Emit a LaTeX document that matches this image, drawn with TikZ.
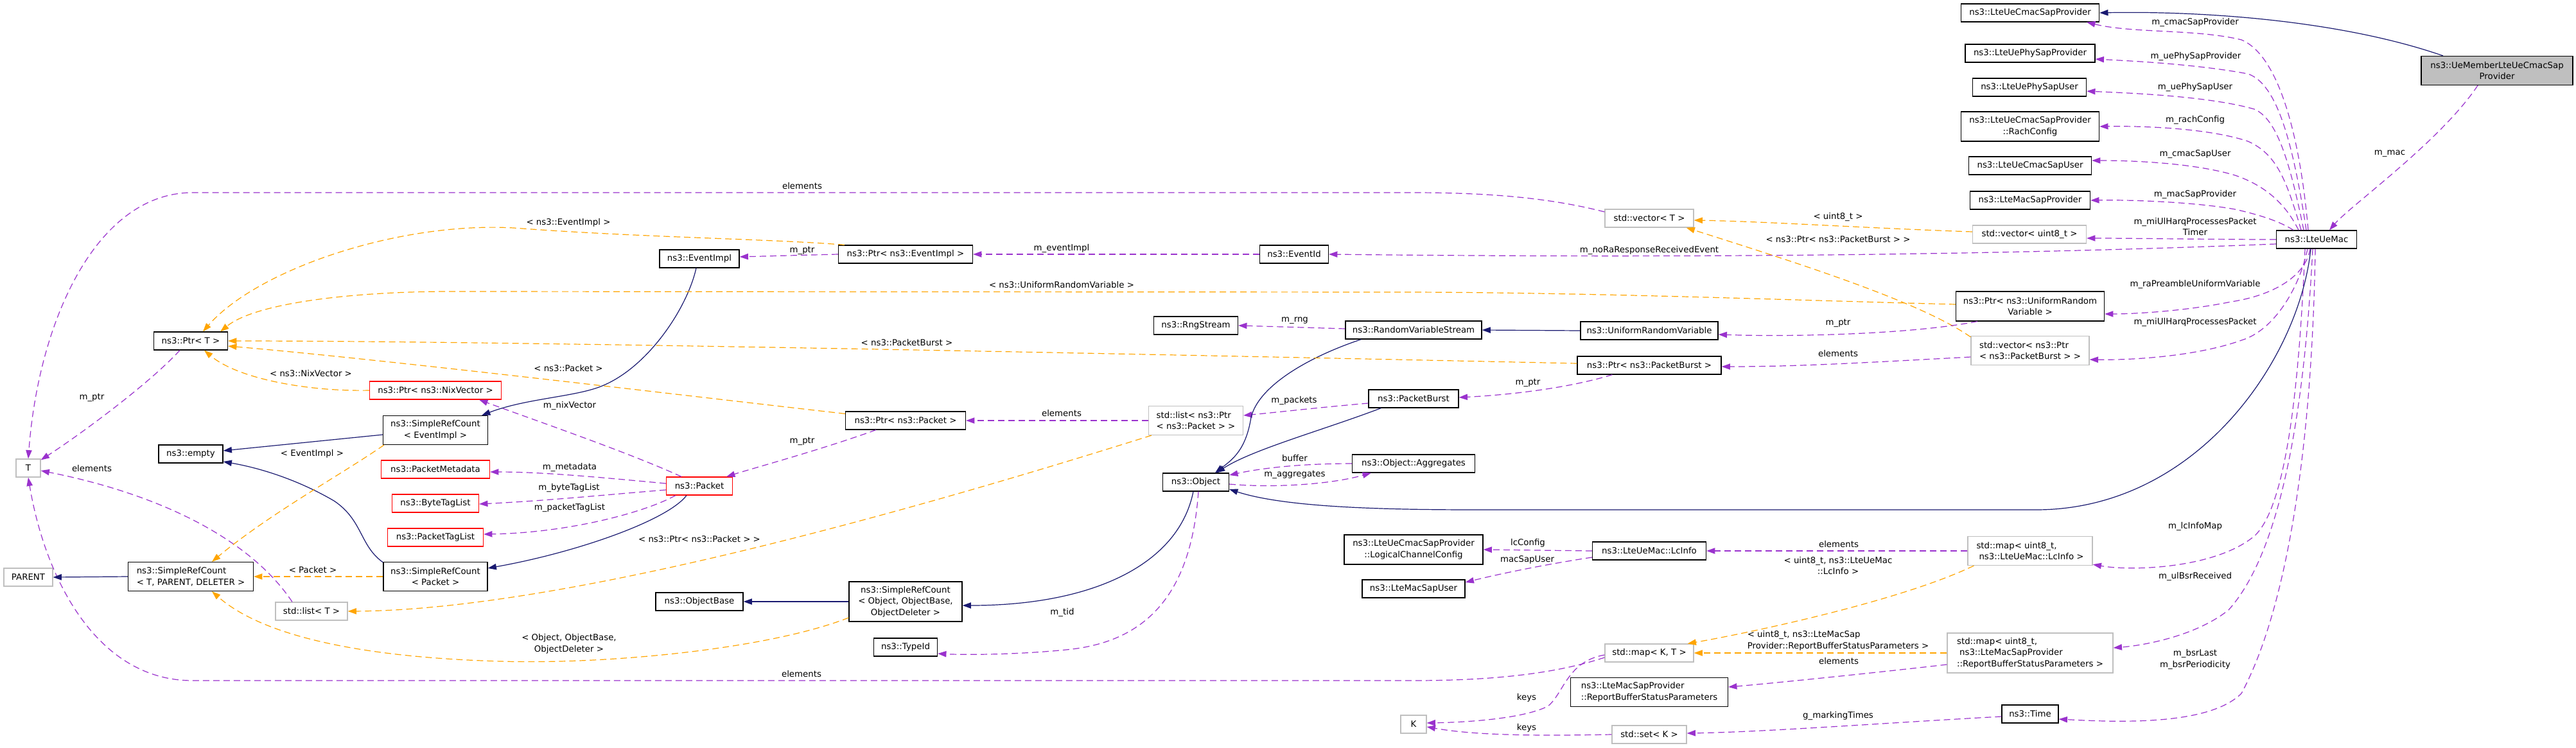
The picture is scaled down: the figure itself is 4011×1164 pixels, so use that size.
\documentclass[tikz,border=0pt]{standalone}
\usepackage{fontspec}
\setmainfont{DejaVu Sans}
\usetikzlibrary{arrows.meta,calc}
\definecolor{dpurple}{HTML}{9A32CD}
\definecolor{dorange}{HTML}{FFA500}
\definecolor{dblue}{HTML}{191970}
\definecolor{gborder}{HTML}{BFBFBF}
\definecolor{mfill}{HTML}{BFBFBF}
\definecolor{rborder}{HTML}{FF0000}
\newcommand{\dgfont}{\fontsize{10}{13.1}\selectfont}
\begin{document}
\begin{tikzpicture}[x=0.75pt,y=-0.75pt,
  nb/.style={draw=black, line width=0.9pt, fill=white, inner sep=0pt, rectangle, font=\dgfont, align=center},
  gb/.style={nb, draw=gborder},
  rb/.style={nb, draw=rborder},
  mb/.style={nb, fill=mfill},
  pe/.style={draw=dpurple, line width=0.9pt, dash pattern=on 7.5pt off 4.5pt, -{Triangle[length=10pt,width=7pt]}},
  oe/.style={pe, draw=dorange},
  be/.style={draw=dblue, line width=0.9pt, -{Triangle[length=10pt,width=7pt]}},
  lbl/.style={inner sep=0pt, font=\dgfont, align=center}]
\fill[white] (0,0) rectangle (4011,1164);
\useasboundingbox (0,0) rectangle (4011,1164);

% ---------- nodes ----------
\node[mb, minimum width=177pt, minimum height=33.75pt] (ueMember) at (3888,110) {ns3::UeMemberLteUeCmacSap\\Provider};
\node[nb, minimum width=161.25pt, minimum height=21pt] (cmacProv) at (3161,20) {ns3::LteUeCmacSapProvider};
\node[nb, minimum width=151.5pt, minimum height=21pt] (phyProv) at (3161,83) {ns3::LteUePhySapProvider};
\node[nb, minimum width=132.75pt, minimum height=21pt] (phyUser) at (3160,136) {ns3::LteUePhySapUser};
\node[nb, minimum width=161.25pt, minimum height=34.5pt] (rach) at (3161,197) {ns3::LteUeCmacSapProvider\\::RachConfig};
\node[nb, minimum width=143.25pt, minimum height=21pt] (cmacUser) at (3161,258) {ns3::LteUeCmacSapUser};
\node[nb, minimum width=140.25pt, minimum height=21pt] (macProv) at (3161,312) {ns3::LteMacSapProvider};
\node[gb, minimum width=132.75pt, minimum height=21pt] (vecU8) at (3160,365) {std::vector< uint8\_t >};
\node[nb, minimum width=93.75pt, minimum height=21pt] (mac) at (3607,373) {ns3::LteUeMac};
\node[nb, minimum width=173.25pt, minimum height=34.5pt] (ptrURV) at (3161,477) {ns3::Ptr< ns3::UniformRandom\\Variable >};
\node[gb, minimum width=138pt, minimum height=33.75pt, align=left] (vecPB) at (3161,546) {std::vector< ns3::Ptr\\< ns3::PacketBurst > >};
\node[nb, minimum width=132.75pt, minimum height=21pt] (lcInfo) at (2568,858) {ns3::LteUeMac::LcInfo};
\node[gb, minimum width=145.5pt, minimum height=33.75pt, align=left] (mapLc) at (3161,858) {std::map< uint8\_t,\\\hspace*{0.3em}ns3::LteUeMac::LcInfo >};
\node[gb, minimum width=103.5pt, minimum height=21pt] (mapKT) at (2568,1017) {std::map< K, T >};
\node[nb, minimum width=183.75pt, minimum height=33.75pt, align=left] (rbsp) at (2568,1078) {ns3::LteMacSapProvider\\::ReportBufferStatusParameters};
\node[gb, minimum width=193.5pt, minimum height=46.5pt, align=left] (mapRB) at (3161,1017) {std::map< uint8\_t,\\\hspace*{0.3em}ns3::LteMacSapProvider\\::ReportBufferStatusParameters >};
\node[nb, minimum width=66pt, minimum height=21pt] (time) at (3161,1112) {ns3::Time};
\node[gb, minimum width=87pt, minimum height=21pt] (setK) at (2568,1144) {std::set< K >};
\node[gb, minimum width=30pt, minimum height=21pt] (K) at (2201,1128) {K};
\node[nb, minimum width=162pt, minimum height=34.5pt] (lcc) at (2201,856) {ns3::LteUeCmacSapProvider\\::LogicalChannelConfig};
\node[nb, minimum width=120pt, minimum height=21pt] (macUser) at (2201,917) {ns3::LteMacSapUser};
\node[nb, minimum width=77.25pt, minimum height=21pt] (object) at (1862,751) {ns3::Object};
\node[nb, minimum width=143.25pt, minimum height=21pt] (aggr) at (2201,722) {ns3::Object::Aggregates};
\node[gb, minimum width=103.5pt, minimum height=21pt] (vecT) at (2568,340) {std::vector< T >};
\node[nb, minimum width=80.25pt, minimum height=21pt] (eventId) at (2015,396) {ns3::EventId};
\node[nb, minimum width=98.25pt, minimum height=21pt] (rng) at (1862,507) {ns3::RngStream};
\node[nb, minimum width=159pt, minimum height=21pt] (rvs) at (2201,514) {ns3::RandomVariableStream};
\node[nb, minimum width=160.5pt, minimum height=21pt] (urv) at (2568,515) {ns3::UniformRandomVariable};
\node[nb, minimum width=168pt, minimum height=21pt] (ptrPB) at (2568,569) {ns3::Ptr< ns3::PacketBurst >};
\node[nb, minimum width=105pt, minimum height=21pt] (pb) at (2201,621) {ns3::PacketBurst};
\node[gb, minimum width=110.25pt, minimum height=33.75pt, align=left] (listPP) at (1862,655) {std::list< ns3::Ptr\\< ns3::Packet > >};
\node[nb, minimum width=140.25pt, minimum height=21pt] (ptrPkt) at (1410,655) {ns3::Ptr< ns3::Packet >};
\node[nb, minimum width=156.75pt, minimum height=21pt] (ptrEI) at (1410,396) {ns3::Ptr< ns3::EventImpl >};
\node[nb, minimum width=93pt, minimum height=21pt] (eventImpl) at (1089,403) {ns3::EventImpl};
\node[rb, minimum width=153.75pt, minimum height=21pt] (ptrNix) at (678,608) {ns3::Ptr< ns3::NixVector >};
\node[nb, minimum width=122.25pt, minimum height=33.75pt] (srcEI) at (678,670) {ns3::SimpleRefCount\\< EventImpl >};
\node[rb, minimum width=126.75pt, minimum height=21pt] (pktMeta) at (678,731) {ns3::PacketMetadata};
\node[rb, minimum width=77.25pt, minimum height=21pt] (packet) at (1089,757) {ns3::Packet};
\node[rb, minimum width=101.25pt, minimum height=21pt] (byteTag) at (678,784) {ns3::ByteTagList};
\node[rb, minimum width=111.75pt, minimum height=21pt] (pktTag) at (678,837) {ns3::PacketTagList};
\node[nb, minimum width=121.5pt, minimum height=33.75pt] (srcPkt) at (678,898) {ns3::SimpleRefCount\\< Packet >};
\node[nb, minimum width=102pt, minimum height=21pt] (objBase) at (1089,937) {ns3::ObjectBase};
\node[nb, minimum width=132pt, minimum height=46.5pt] (srcObj) at (1410,937) {ns3::SimpleRefCount\\< Object, ObjectBase,\\ObjectDeleter >};
\node[nb, minimum width=74.25pt, minimum height=21pt] (typeId) at (1410,1008) {ns3::TypeId};
\node[nb, minimum width=86.25pt, minimum height=21pt] (ptrT) at (297,531) {ns3::Ptr< T >};
\node[nb, minimum width=75pt, minimum height=21pt] (empty) at (297,707) {ns3::empty};
\node[gb, minimum width=28.5pt, minimum height=21pt] (T) at (44,729) {T};
\node[gb, minimum width=57pt, minimum height=21pt] (parent) at (44,899) {PARENT};
\node[nb, minimum width=146.25pt, minimum height=33.75pt, align=left] (srcT) at (297,898) {ns3::SimpleRefCount\\< T, PARENT, DELETER >};
\node[gb, minimum width=84pt, minimum height=21pt] (listT) at (485,952) {std::list< T >};

% ---------- edges: LteUeMac neighbourhood ----------
\draw[be] ($(ueMember.north)+(-84,0)$) .. controls (3640,30) and (3420,17) .. (cmacProv.east);
\draw[pe] ($(ueMember.south)+(-30,0)$) .. controls (3800,220) and (3660,320) .. ($(mac.north)+(20,0)$);
\draw[pe] ($(mac.north)+(-13,0)$) .. controls (3580,200) and (3545,85) .. (3490,62) .. controls (3420,45) and (3320,52) .. ($(cmacProv.south east)+(-20,0)$);
\draw[pe] ($(mac.north)+(-16,0)$) .. controls (3570,220) and (3545,130) .. (3500,115) .. controls (3420,100) and (3320,95) .. ($(phyProv.east)+(0,9)$);
\draw[pe] ($(mac.north)+(-20,0)$) .. controls (3565,250) and (3545,185) .. (3510,170) .. controls (3440,150) and (3320,145) .. ($(phyUser.east)+(0,6)$);
\draw[pe] ($(mac.north)+(-24,0)$) .. controls (3560,280) and (3545,240) .. (3500,220) .. controls (3440,200) and (3340,196) .. (rach.east);
\draw[pe] ($(mac.north)+(-28,0)$) .. controls (3560,320) and (3530,290) .. (3480,273) .. controls (3420,255) and (3330,250) .. ($(cmacUser.east)+(0,-8)$);
\draw[pe] ($(mac.north)+(-36,0)$) .. controls (3550,345) and (3520,335) .. (3480,326) .. controls (3420,315) and (3320,311) .. (macProv.east);
\draw[pe] (mac.west) .. controls (3450,373) and (3320,371) .. ($(vecU8.east)+(0,6)$);
\draw[pe] ($(mac.west)+(0,7)$) .. controls (3100,398) and (2600,402) .. (eventId.east);
\draw[pe] ($(mac.south)+(-10,0)$) .. controls (3590,430) and (3540,460) .. (3474,470) .. controls (3400,485) and (3320,489) .. ($(ptrURV.east)+(0,12)$);
\draw[pe] ($(mac.south)+(-14,0)$) .. controls (3580,450) and (3540,515) .. (3490,530) .. controls (3420,555) and (3320,561) .. ($(vecPB.east)+(0,14)$);
\draw[pe] ($(mac.south)+(-18,0)$) .. controls (3580,600) and (3560,790) .. (3510,835) .. controls (3450,885) and (3320,890) .. ($(mapLc.south east)+(0,-2)$);
\draw[pe] ($(mac.south)+(-6,0)$) .. controls (3590,600) and (3560,850) .. (3470,950) .. controls (3420,990) and (3340,1005) .. ($(mapRB.east)+(0,-8)$);
\draw[pe] ($(mac.south)+(-2,0)$) .. controls (3600,700) and (3560,950) .. (3490,1080) .. controls (3440,1130) and (3300,1125) .. ($(time.east)+(0,8)$);
\draw[be] ($(mac.south)+(-9,0)$) .. controls (3580,560) and (3420,794) .. (3170,794) -- (2300,794) .. controls (2150,794) and (2000,790) .. ($(object.east)+(0,11)$);

% ---------- edges: lower right ----------
\draw[pe] (mapLc.west) -- (lcInfo.east);
\draw[pe] ($(mapRB.west)+(0,18)$) .. controls (2900,1050) and (2750,1065) .. ($(rbsp.east)+(0,-8)$);
\draw[oe] (mapRB.west) -- (mapKT.east);
\draw[oe] ($(mapLc.south west)+(10,0)$) .. controls (2950,940) and (2700,990) .. ($(mapKT.north east)+(-10,0)$);
\draw[pe] ($(time.west)+(0,4)$) .. controls (2950,1125) and (2750,1140) .. ($(setK.east)+(0,-2)$);
\draw[pe] (setK.west) .. controls (2400,1146) and (2300,1146) .. ($(K.east)+(0,4)$);
\draw[pe] ($(mapKT.west)+(0,3)$) .. controls (2440,1030) and (2435,1080) .. (2410,1100) .. controls (2370,1120) and (2280,1125) .. ($(K.east)+(0,-2)$);
\draw[pe] ($(mapKT.west)+(0,7)$) .. controls (2420,1050) and (2320,1060) .. (2200,1060) -- (300,1060) .. controls (150,1060) and (70,900) .. (T.south);
\draw[pe] (lcInfo.west) -- (lcc.east);
\draw[pe] ($(lcInfo.west)+(0,10)$) .. controls (2400,880) and (2330,895) .. ($(macUser.east)+(0,-10)$);

% ---------- edges: middle ----------
\draw[pe] ($(vecT.west)+(0,-10)$) .. controls (2420,310) and (2330,300) .. (2200,300) -- (300,300) .. controls (150,300) and (60,500) .. (T.north);
\draw[oe] ($(vecU8.west)+(0,-4)$) .. controls (2900,355) and (2750,345) .. ($(vecT.east)+(0,3)$);
\draw[oe] ($(vecPB.north west)+(0,2)$) .. controls (2990,470) and (2800,410) .. ($(vecT.south east)+(-12,0)$);
\draw[pe] (eventId.west) -- (ptrEI.east);
\draw[pe] (ptrEI.west) -- ($(eventImpl.east)+(0,-3)$);
\draw[pe] ($(rvs.west)+(0,-2)$) -- (rng.east);
\draw[be] (urv.west) -- (rvs.east);
\draw[pe] ($(ptrURV.south west)+(34,0)$) .. controls (2980,520) and (2800,525) .. ($(urv.east)+(0,6)$);
\draw[pe] ($(vecPB.west)+(0,10)$) .. controls (2900,565) and (2800,571) .. ($(ptrPB.east)+(0,2)$);
\draw[pe] ($(ptrPB.south west)+(55,0)$) .. controls (2440,605) and (2350,615) .. ($(pb.east)+(0,-2)$);
\draw[pe] ($(pb.west)+(0,7)$) .. controls (2050,635) and (1990,642) .. ($(listPP.east)+(0,-8)$);
\draw[be] ($(rvs.south west)+(25,0)$) .. controls (2040,555) and (1960,600) .. (1948,650) .. controls (1940,700) and (1920,715) .. ($(object.north)+(30,0)$);
\draw[be] ($(pb.south west)+(20,0)$) .. controls (2060,670) and (1950,700) .. ($(object.north)+(32,0)$);
\draw[pe] (aggr.west) .. controls (2020,722) and (1960,730) .. ($(object.east)+(0,-11)$);
\draw[pe] ($(object.east)+(0,3)$) .. controls (1980,760) and (2070,755) .. ($(aggr.south west)+(30,0)$);
\draw[pe] (listPP.west) -- (ptrPkt.east);
\draw[oe] ($(listPP.south west)+(5,0)$) .. controls (1500,770) and (900,950) .. (listT.east);
\draw[pe] ($(ptrPkt.south west)+(48,0)$) .. controls (1280,700) and (1170,730) .. ($(packet.north east)+(-10,0)$);
\draw[pe] ($(packet.north)+(-28,0)$) .. controls (980,705) and (820,650) .. ($(ptrNix.south east)+(-35,0)$);
\draw[pe] ($(packet.west)+(0,-4)$) .. controls (950,745) and (850,735) .. ($(pktMeta.east)+(0,4)$);
\draw[pe] ($(packet.west)+(0,6)$) .. controls (950,770) and (850,780) .. ($(byteTag.east)+(0,1)$);
\draw[pe] ($(packet.south west)+(15,0)$) .. controls (1000,800) and (880,830) .. ($(pktTag.east)+(0,-5)$);
\draw[be] ($(packet.south)+(-20,0)$) .. controls (1040,810) and (900,860) .. ($(srcPkt.east)+(0,-13)$);
\draw[be] ($(eventImpl.south)+(-5,0)$) .. controls (1070,480) and (1010,570) .. (940,600) .. controls (900,618) and (820,620) .. ($(srcEI.north east)+(-10,0)$);
\draw[be] ($(srcEI.west)+(0,7)$) -- ($(empty.east)+(0,-5)$);
\draw[be] ($(srcPkt.north west)+(0,1)$) .. controls (560,850) and (565,810) .. (520,780) .. controls (460,745) and (400,728) .. ($(empty.east)+(0,12)$);
\draw[be] (srcT.west) -- (parent.east);
\draw[be] (srcObj.west) -- (objBase.east);
\draw[be] ($(object.south)+(-4,0)$) .. controls (1835,880) and (1700,943) .. ($(srcObj.east)+(0,6)$);
\draw[pe] ($(object.south)+(4,0)$) .. controls (1855,920) and (1790,1000) .. (1660,1012) .. controls (1580,1020) and (1500,1020) .. ($(typeId.east)+(0,10)$);

% ---------- edges: template instances to Ptr<T> ----------
\draw[oe] ($(ptrEI.north west)+(10,0)$) .. controls (1200,372) and (1000,370) .. (800,355) .. controls (620,345) and (400,420) .. ($(ptrT.north)+(19,0)$);
\draw[oe] ($(ptrURV.west)+(0,-3)$) .. controls (2800,468) and (2500,456) .. (2200,455) -- (700,454) .. controls (560,454) and (400,470) .. ($(ptrT.north east)+(-12,0)$);
\draw[oe] ($(ptrPB.west)+(0,-3)$) .. controls (1800,552) and (800,531) .. (ptrT.east);
\draw[oe] ($(ptrPkt.north west)+(0,4)$) .. controls (1100,620) and (600,560) .. ($(ptrT.east)+(0,8)$);
\draw[oe] (ptrNix.west) .. controls (480,610) and (370,590) .. ($(ptrT.south)+(21,0)$);
\draw[pe] ($(ptrT.south)+(-17,0)$) .. controls (230,600) and (120,680) .. ($(T.north east)+(0,2)$);
\draw[pe] ($(listT.north)+(-30,0)$) .. controls (390,840) and (250,770) .. ($(T.east)+(0,4)$);
\draw[oe] ($(srcEI.south west)+(2,0)$) .. controls (530,740) and (420,800) .. ($(srcT.north)+(33,0)$);
\draw[oe] (srcPkt.west) -- (srcT.east);
\draw[oe] ($(srcObj.west)+(0,25)$) .. controls (1200,1010) and (950,1035) .. (780,1030) .. controls (600,1025) and (420,1000) .. ($(srcT.south)+(33,0)$);

% ---------- labels ----------
\node[lbl] (l1) at (3721,239) {m\_mac};
\node[lbl] (l2) at (3418,35) {m\_cmacSapProvider};
\node[lbl] (l3) at (3419,88) {m\_uePhySapProvider};
\node[lbl] (l4) at (3418,136) {m\_uePhySapUser};
\node[lbl] (l5) at (3418,187) {m\_rachConfig};
\node[lbl] (l6) at (3418,240) {m\_cmacSapUser};
\node[lbl] (l7) at (3418,303) {m\_macSapProvider};
\node[lbl] (l8) at (3418,353) {m\_miUlHarqProcessesPacket\\Timer};
\node[lbl] (l9) at (2568,390) {m\_noRaResponseReceivedEvent};
\node[lbl] (l10) at (3418,443) {m\_raPreambleUniformVariable};
\node[lbl] (l11) at (3418,502) {m\_miUlHarqProcessesPacket};
\node[lbl] (l12) at (3418,820) {m\_lcInfoMap};
\node[lbl] (l13) at (3418,898) {m\_ulBsrReceived};
\node[lbl] (l14) at (3418,1027) {m\_bsrLast\\m\_bsrPeriodicity};
\node[lbl] (l15) at (1249,290) {elements};
\node[lbl] (l16) at (143,619) {m\_ptr};
\node[lbl] (l17) at (143,730) {elements};
\node[lbl] (l18) at (1248,1050) {elements};
\node[lbl] (l19) at (2377,1087) {keys};
\node[lbl] (l20) at (2377,1134) {keys};
\node[lbl] (l21) at (2862,1115) {g\_markingTimes};
\node[lbl] (l22) at (2863,848) {elements};
\node[lbl] (l23) at (2863,1030) {elements};
\node[lbl, align=left] (l24) at (2862,998) {< uint8\_t, ns3::LteMacSap\\Provider::ReportBufferStatusParameters >};
\node[lbl] (l25) at (2862,881) {< uint8\_t, ns3::LteUeMac\\::LcInfo >};
\node[lbl] (l26) at (2379,846) {lcConfig};
\node[lbl] (l27) at (2378,872) {macSapUser};
\node[lbl] (l28) at (1653,387) {m\_eventImpl};
\node[lbl] (l29) at (1249,390) {m\_ptr};
\node[lbl] (l30) at (885,347) {< ns3::EventImpl >};
\node[lbl] (l31) at (1653,444) {< ns3::UniformRandomVariable >};
\node[lbl] (l32) at (1412,534) {< ns3::PacketBurst >};
\node[lbl] (l33) at (885,574) {< ns3::Packet >};
\node[lbl] (l34) at (484,582) {< ns3::NixVector >};
\node[lbl] (l35) at (2862,338) {< uint8\_t >};
\node[lbl] (l36) at (2862,373) {< ns3::Ptr< ns3::PacketBurst > >};
\node[lbl] (l37) at (2016,499) {m\_rng};
\node[lbl] (l38) at (2862,503) {m\_ptr};
\node[lbl] (l39) at (2862,551) {elements};
\node[lbl] (l40) at (2379,596) {m\_ptr};
\node[lbl] (l41) at (2015,624) {m\_packets};
\node[lbl] (l42) at (2016,714) {buffer};
\node[lbl] (l43) at (2016,739) {m\_aggregates};
\node[lbl] (l44) at (1653,644) {elements};
\node[lbl] (l45) at (1089,840) {< ns3::Ptr< ns3::Packet > >};
\node[lbl] (l46) at (1249,687) {m\_ptr};
\node[lbl] (l47) at (887,632) {m\_nixVector};
\node[lbl] (l48) at (887,728) {m\_metadata};
\node[lbl] (l49) at (886,760) {m\_byteTagList};
\node[lbl] (l50) at (887,791) {m\_packetTagList};
\node[lbl] (l51) at (1654,954) {m\_tid};
\node[lbl] (l52) at (486,707) {< EventImpl >};
\node[lbl] (l53) at (487,888) {< Packet >};
\node[lbl] (l54) at (886,1003) {< Object, ObjectBase,\\ObjectDeleter >};
\end{tikzpicture}
\end{document}
